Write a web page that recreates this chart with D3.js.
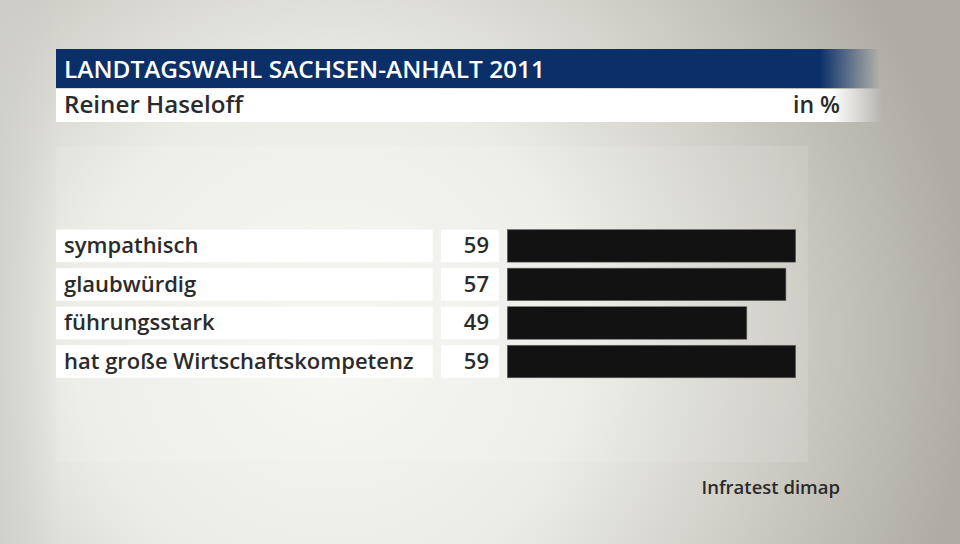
<!DOCTYPE html>
<html><head><meta charset="utf-8">
<script src="https://cdn.jsdelivr.net/npm/d3@7"></script>
<style>html,body{margin:0;padding:0;overflow:hidden;background:#ddd}</style>
</head><body>
<svg id="c" width="960" height="544"></svg>
<script>
const title = "LANDTAGSWAHL SACHSEN-ANHALT 2011";
const subtitle = "Reiner Haseloff";
const unit = "in %";
const source = "Infratest dimap";
const categories = ["sympathisch", "glaubwürdig", "führungsstark", "hat große Wirtschaftskompetenz"];
const values = [59, 57, 49, 59];

const svg = d3.select("#c");
const defs = svg.append("defs");
const font = "'Open Sans', 'DejaVu Sans', sans-serif";

// background
const rg = defs.append("radialGradient").attr("id","bg").attr("gradientUnits","userSpaceOnUse")
  .attr("cx",330).attr("cy",340).attr("r",640);
rg.append("stop").attr("offset","0%").attr("stop-color","#f6f6f2");
rg.append("stop").attr("offset","40%").attr("stop-color","#ecece7");
rg.append("stop").attr("offset","75%").attr("stop-color","#c9c8c0");
rg.append("stop").attr("offset","100%").attr("stop-color","#aeaca3");
svg.append("rect").attr("width",960).attr("height",544).attr("fill","url(#bg)");
const lg = defs.append("linearGradient").attr("id","lft").attr("x1",0).attr("x2",1);
lg.append("stop").attr("offset","0").attr("stop-color","#cfcfc9").attr("stop-opacity",0.8);
lg.append("stop").attr("offset","1").attr("stop-color","#cfcfc9").attr("stop-opacity",0);
svg.append("rect").attr("x",0).attr("width",60).attr("height",544).attr("fill","url(#lft)");
// light panel
svg.append("rect").attr("x",56).attr("y",146).attr("width",752).attr("height",316)
  .attr("fill","#ffffff").attr("opacity",0.1);

// header fades
const fb = defs.append("linearGradient").attr("id","fadeBlue").attr("gradientUnits","userSpaceOnUse")
  .attr("x1",820).attr("x2",880).attr("y1",0).attr("y2",0);
fb.append("stop").attr("offset","0").attr("stop-color","#0b3069").attr("stop-opacity",1);
fb.append("stop").attr("offset","1").attr("stop-color","#0b3069").attr("stop-opacity",0);
const fw = defs.append("linearGradient").attr("id","fadeWhite").attr("gradientUnits","userSpaceOnUse")
  .attr("x1",830).attr("x2",882).attr("y1",0).attr("y2",0);
fw.append("stop").attr("offset","0").attr("stop-color","#ffffff").attr("stop-opacity",1);
fw.append("stop").attr("offset","1").attr("stop-color","#ffffff").attr("stop-opacity",0);

svg.append("rect").attr("x",56).attr("y",49).attr("width",826).attr("height",39).attr("fill","url(#fadeBlue)");
svg.append("rect").attr("x",56).attr("y",89).attr("width",826).attr("height",33).attr("fill","url(#fadeWhite)");

svg.append("text").attr("x",64).attr("y",78).text(title)
  .attr("font-family",font).attr("font-weight",600).attr("font-size",23).attr("fill","#fff")
  .attr("textLength",481).attr("lengthAdjust","spacingAndGlyphs");
svg.append("text").attr("x",64).attr("y",113).text(subtitle)
  .attr("font-family",font).attr("font-weight",600).attr("font-size",23).attr("fill","#2b2b2b")
  .attr("textLength",179).attr("lengthAdjust","spacingAndGlyphs");
svg.append("text").attr("x",840).attr("y",113).attr("text-anchor","end").text(unit)
  .attr("font-family",font).attr("font-weight",600).attr("font-size",23).attr("fill","#2b2b2b")
  .attr("textLength",47).attr("lengthAdjust","spacingAndGlyphs");

// scales
const y = d3.scaleBand().domain(categories).range([229.6, 377.8]).paddingInner(0.156).paddingOuter(0);
const x = d3.scaleLinear().domain([0, 59]).range([507.3, 795.7]);

const rows = svg.append("g").selectAll("g").data(categories).join("g");
rows.append("rect").attr("x",56).attr("y",d=>y(d)).attr("width",376.7).attr("height",y.bandwidth()).attr("fill","#fff");
rows.append("rect").attr("x",441).attr("y",d=>y(d)).attr("width",58).attr("height",y.bandwidth()).attr("fill","#fff");
rows.append("text").attr("x",64).attr("y",d=>y(d)+y.bandwidth()/2+7.5).text(d=>d)
  .attr("font-family",font).attr("font-weight",600).attr("font-size",22).attr("fill","#2b2b2b");
rows.append("text").attr("x",489).attr("y",d=>y(d)+y.bandwidth()/2+7.5).attr("text-anchor","end")
  .text((d,i)=>values[i])
  .attr("font-family",font).attr("font-weight",600).attr("font-size",22).attr("fill","#2b2b2b");
rows.append("rect").attr("x",x(0)).attr("y",d=>y(d)).attr("width",(d,i)=>x(values[i])-x(0))
  .attr("height",y.bandwidth()).attr("fill","#121212").attr("stroke","#6a6a6a").attr("stroke-width",0.6);

svg.append("text").attr("x",840).attr("y",494).attr("text-anchor","end").text(source)
  .attr("font-family",font).attr("font-weight",600).attr("font-size",18.5).attr("fill","#2b2b2b");
</script>
</body></html>
